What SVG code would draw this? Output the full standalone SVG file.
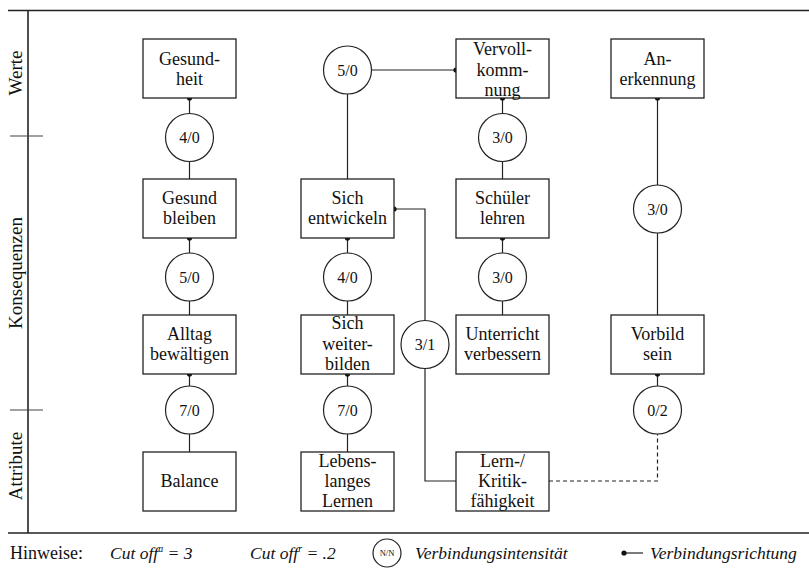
<svg xmlns="http://www.w3.org/2000/svg" width="809" height="568" viewBox="0 0 809 568">
  <style>
    .box { fill: #fff; stroke: #222; stroke-width: 1.3; }
    .circ { fill: #fff; stroke: #222; stroke-width: 1.2; }
    .edge { fill: none; stroke: #222; stroke-width: 1.2; }
    .dash { fill: none; stroke: #222; stroke-width: 1.2; stroke-dasharray: 4 3; }
    .frame { fill: none; stroke: #222; stroke-width: 1.6; }
    .tick { fill: none; stroke: #444; stroke-width: 1.2; }
    .dot { fill: #111; }
    text { font-family: 'Liberation Serif', 'DejaVu Serif', serif; fill: #111; }
    .t { font-size: 18px; text-anchor: middle; }
    .c { font-size: 16px; text-anchor: middle; }
    .nn { font-size: 8.5px; text-anchor: middle; }
    .side { font-size: 19px; text-anchor: middle; }
    .leg { font-size: 18px; }
    .legi { font-size: 17.5px; font-style: italic; }
    .sup { font-size: 10px; }
  </style>

  <!-- frame and level axis -->
  <g id="frame">
    <line class="frame" x1="8" y1="10.5" x2="809" y2="10.5"/>
    <line class="frame" x1="8" y1="533" x2="809" y2="533"/>
    <line class="frame" x1="28" y1="10.5" x2="28" y2="533"/>
    <line class="tick" x1="10" y1="136" x2="43" y2="136"/>
    <line class="tick" x1="10" y1="410" x2="43" y2="410"/>
    <text class="side" transform="translate(22,73) rotate(-90)">Werte</text>
    <text class="side" transform="translate(22,273) rotate(-90)">Konsequenzen</text>
    <text class="side" transform="translate(22,466) rotate(-90)">Attribute</text>
  </g>

  <!-- connectors -->
  <g id="connectors">
    <!-- column 1 -->
    <line class="edge" x1="189.5" y1="98" x2="189.5" y2="179"/>
    <line class="edge" x1="189.5" y1="238" x2="189.5" y2="315"/>
    <line class="edge" x1="189.5" y1="374" x2="189.5" y2="452"/>
    <!-- column 2 -->
    <line class="edge" x1="347.5" y1="70" x2="456" y2="70"/>
    <line class="edge" x1="347.5" y1="94" x2="347.5" y2="179"/>
    <line class="edge" x1="347.5" y1="238" x2="347.5" y2="315"/>
    <line class="edge" x1="347.5" y1="374" x2="347.5" y2="452"/>
    <polyline class="edge" points="394,209 425,209 425,481 456,481"/>
    <!-- column 3 -->
    <line class="edge" x1="502.5" y1="98" x2="502.5" y2="179"/>
    <line class="edge" x1="502.5" y1="238" x2="502.5" y2="315"/>
    <!-- column 4 -->
    <line class="edge" x1="657.5" y1="98" x2="657.5" y2="316"/>
    <line class="edge" x1="657.5" y1="374" x2="657.5" y2="386"/>
    <polyline class="dash" points="549,481 657.5,481 657.5,434"/>
    <!-- direction dots -->
    <circle class="dot" cx="189.5" cy="98" r="2.6"/>
    <circle class="dot" cx="189.5" cy="238" r="2.6"/>
    <circle class="dot" cx="189.5" cy="374" r="2.6"/>
    <circle class="dot" cx="347.5" cy="238" r="2.6"/>
    <circle class="dot" cx="347.5" cy="374" r="2.6"/>
    <circle class="dot" cx="394" cy="209" r="2.6"/>
    <circle class="dot" cx="456" cy="70" r="2.6"/>
    <circle class="dot" cx="502.5" cy="98" r="2.6"/>
    <circle class="dot" cx="502.5" cy="238" r="2.6"/>
    <circle class="dot" cx="657.5" cy="98" r="2.6"/>
    <circle class="dot" cx="657.5" cy="374" r="2.6"/>
  </g>

  <!-- intensity circles -->
  <g id="i-gesundheit"><circle class="circ" cx="189.5" cy="137.5" r="24"/><text class="c" x="189.5" y="143">4/0</text></g>
  <g id="i-gesund-bleiben"><circle class="circ" cx="189.5" cy="277" r="24"/><text class="c" x="189.5" y="282.5">5/0</text></g>
  <g id="i-alltag"><circle class="circ" cx="189.5" cy="410" r="24"/><text class="c" x="189.5" y="415.5">7/0</text></g>
  <g id="i-entwickeln-top"><circle class="circ" cx="347.5" cy="70" r="24"/><text class="c" x="347.5" y="75.5">5/0</text></g>
  <g id="i-entwickeln"><circle class="circ" cx="347.5" cy="277" r="24"/><text class="c" x="347.5" y="282.5">4/0</text></g>
  <g id="i-weiterbilden"><circle class="circ" cx="347.5" cy="410" r="24"/><text class="c" x="347.5" y="415.5">7/0</text></g>
  <g id="i-lernfaehigkeit"><circle class="circ" cx="425" cy="344.5" r="24"/><text class="c" x="425" y="350">3/1</text></g>
  <g id="i-vervollkommnung"><circle class="circ" cx="502.5" cy="137.5" r="24"/><text class="c" x="502.5" y="143">3/0</text></g>
  <g id="i-schueler"><circle class="circ" cx="502.5" cy="277" r="24"/><text class="c" x="502.5" y="282.5">3/0</text></g>
  <g id="i-anerkennung"><circle class="circ" cx="657.5" cy="209" r="24"/><text class="c" x="657.5" y="214.5">3/0</text></g>
  <g id="i-vorbild"><circle class="circ" cx="657.5" cy="410" r="24"/><text class="c" x="657.5" y="415.5">0/2</text></g>

  <!-- Werte -->
  <g id="gesundheit">
    <rect class="box" x="143" y="39" width="93" height="59"/>
    <text class="t" x="189.5" y="65">Gesund-</text>
    <text class="t" x="189.5" y="85">heit</text>
  </g>
  <g id="vervollkommnung">
    <rect class="box" x="456" y="39" width="93" height="59"/>
    <text class="t" x="502.5" y="55">Vervoll-</text>
    <text class="t" x="502.5" y="75.5">komm-</text>
    <text class="t" x="502.5" y="96">nung</text>
  </g>
  <g id="anerkennung">
    <rect class="box" x="611" y="39" width="93" height="59"/>
    <text class="t" x="657.5" y="65">An-</text>
    <text class="t" x="657.5" y="85">erkennung</text>
  </g>

  <!-- Konsequenzen -->
  <g id="gesund-bleiben">
    <rect class="box" x="143" y="179" width="93" height="59"/>
    <text class="t" x="189.5" y="204">Gesund</text>
    <text class="t" x="189.5" y="224">bleiben</text>
  </g>
  <g id="sich-entwickeln">
    <rect class="box" x="301" y="179" width="93" height="59"/>
    <text class="t" x="347.5" y="204">Sich</text>
    <text class="t" x="347.5" y="224">entwickeln</text>
  </g>
  <g id="schueler-lehren">
    <rect class="box" x="456" y="179" width="93" height="59"/>
    <text class="t" x="502.5" y="204">Schüler</text>
    <text class="t" x="502.5" y="224">lehren</text>
  </g>
  <g id="alltag">
    <rect class="box" x="143" y="315" width="93" height="59"/>
    <text class="t" x="189.5" y="340">Alltag</text>
    <text class="t" x="189.5" y="360">bewältigen</text>
  </g>
  <g id="weiterbilden">
    <rect class="box" x="301" y="315" width="93" height="59"/>
    <text class="t" x="347.5" y="329">Sich</text>
    <text class="t" x="347.5" y="350">weiter-</text>
    <text class="t" x="347.5" y="370">bilden</text>
  </g>
  <g id="unterricht">
    <rect class="box" x="456" y="315" width="93" height="59"/>
    <text class="t" x="502.5" y="340">Unterricht</text>
    <text class="t" x="502.5" y="360">verbessern</text>
  </g>
  <g id="vorbild">
    <rect class="box" x="611" y="315" width="93" height="59"/>
    <text class="t" x="657.5" y="340">Vorbild</text>
    <text class="t" x="657.5" y="360">sein</text>
  </g>

  <!-- Attribute -->
  <g id="balance">
    <rect class="box" x="143" y="452" width="93" height="59"/>
    <text class="t" x="189.5" y="487">Balance</text>
  </g>
  <g id="lebenslanges-lernen">
    <rect class="box" x="301" y="452" width="93" height="59"/>
    <text class="t" x="347.5" y="467">Lebens-</text>
    <text class="t" x="347.5" y="487">langes</text>
    <text class="t" x="347.5" y="507">Lernen</text>
  </g>
  <g id="lernfaehigkeit">
    <rect class="box" x="456" y="452" width="93" height="59"/>
    <text class="t" x="502.5" y="467">Lern-/</text>
    <text class="t" x="502.5" y="487">Kritik-</text>
    <text class="t" x="502.5" y="507">fähigkeit</text>
  </g>

  <!-- legend -->
  <g id="legend">
    <text class="leg" x="10" y="559">Hinweise:</text>
    <text class="legi" x="110" y="559">Cut off<tspan class="sup" dy="-7">a</tspan><tspan dy="7"> = 3</tspan></text>
    <text class="legi" x="250" y="559">Cut off<tspan class="sup" dy="-7">r</tspan><tspan dy="7"> = .2</tspan></text>
    <circle class="circ" cx="387" cy="553" r="14"/>
    <text class="nn" x="387" y="556">N/N</text>
    <text class="legi" x="415" y="559">Verbindungsintensität</text>
    <line class="edge" x1="624" y1="553" x2="643" y2="553"/>
    <circle class="dot" cx="624" cy="553" r="2.6"/>
    <text class="legi" x="650" y="559">Verbindungsrichtung</text>
  </g>
</svg>
